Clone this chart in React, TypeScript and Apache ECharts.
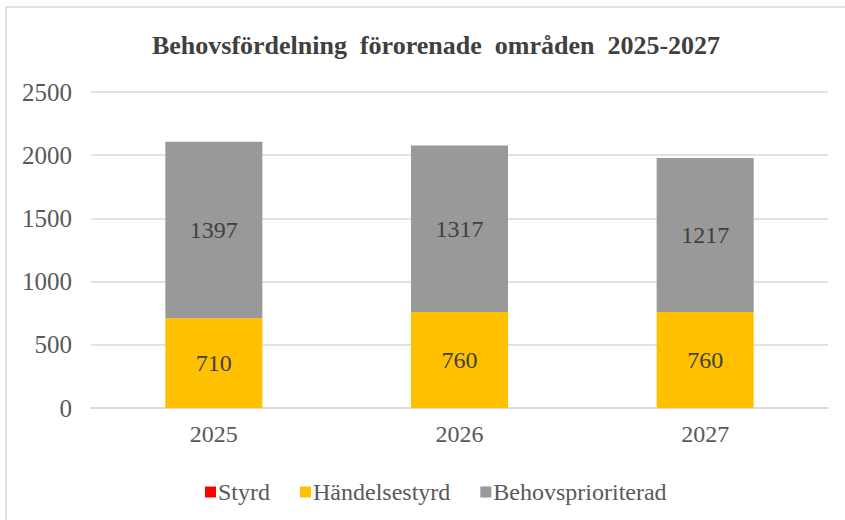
import React, { useEffect, useRef } from "react";
import * as echarts from "echarts";

const categories = ["2025", "2026", "2027"];
const styrd = [0, 0, 0];
const handelsestyrd = [710, 760, 760];
const behovsprioriterad = [1397, 1317, 1217];
const yTicks = { min: 0, max: 2500, interval: 500 };

const FONT = "'Liberation Serif', 'Times New Roman', serif";
const TXT = "#595959";

export default function App() {
  const ref = useRef<HTMLDivElement>(null);
  useEffect(() => {
    if (!ref.current) return;
    const chart = echarts.init(ref.current, undefined, { renderer: "svg" });
    const labelFn = (p: any) => (p.value ? String(p.value) : "");
    chart.setOption({
      animation: false,
      backgroundColor: "#ffffff",
      title: {
        text: "Behovsfördelning  förorenade  områden  2025-2027",
        left: 431,
        textAlign: "center",
        top: 27,
        textStyle: { fontFamily: FONT, fontSize: 26, fontWeight: "bold", color: "#404040" },
      },
      graphic: [
        {
          type: "rect",
          shape: { x: 6, y: 7, width: 900, height: 600 },
          style: { fill: "none", stroke: "#d9d9d9", lineWidth: 1.5 },
          silent: true,
        },
      ],
      legend: {
        left: 200,
        top: 475,
        itemWidth: 11,
        itemHeight: 11,
        itemGap: 30,
        icon: "rect",
        textStyle: { fontFamily: FONT, fontSize: 24, color: TXT, padding: [0, 0, 0, -3] },
        data: ["Styrd", "Händelsestyrd", "Behovsprioriterad"],
      },
      grid: { left: 91, right: 17, top: 92, bottom: 112 },
      xAxis: {
        type: "category",
        data: categories,
        axisTick: { show: false },
        axisLine: { lineStyle: { color: "#d9d9d9", width: 1.5 } },
        axisLabel: { fontFamily: FONT, fontSize: 24, color: TXT, margin: 14 },
      },
      yAxis: {
        type: "value",
        min: yTicks.min,
        max: yTicks.max,
        interval: yTicks.interval,
        axisLine: { show: false },
        axisTick: { show: false },
        splitLine: { lineStyle: { color: "#d9d9d9", width: 1.5 } },
        axisLabel: {
          fontFamily: FONT,
          fontSize: 25,
          color: TXT,
          margin: 19,
          formatter: (v: number) => String(v),
        },
      },
      series: [
        {
          name: "Styrd",
          type: "bar",
          stack: "total",
          barWidth: "39.5%",
          data: styrd,
          itemStyle: { color: "#ff0000" },
          label: { show: false },
        },
        {
          name: "Händelsestyrd",
          type: "bar",
          stack: "total",
          barWidth: "39.5%",
          data: handelsestyrd,
          itemStyle: { color: "#ffc000" },
          label: {
            show: true,
            position: "inside",
            formatter: labelFn,
            fontFamily: FONT,
            fontSize: 24,
            color: "#404040",
          },
        },
        {
          name: "Behovsprioriterad",
          type: "bar",
          stack: "total",
          barWidth: "39.5%",
          data: behovsprioriterad,
          itemStyle: { color: "#999999" },
          label: {
            show: true,
            position: "inside",
            formatter: labelFn,
            fontFamily: FONT,
            fontSize: 24,
            color: "#404040",
          },
        },
      ],
    });
    return () => chart.dispose();
  }, []);
  return (
    <div
      ref={ref}
      style={{ position: "fixed", left: 0, top: 0, width: 845, height: 520 }}
    />
  );
}
